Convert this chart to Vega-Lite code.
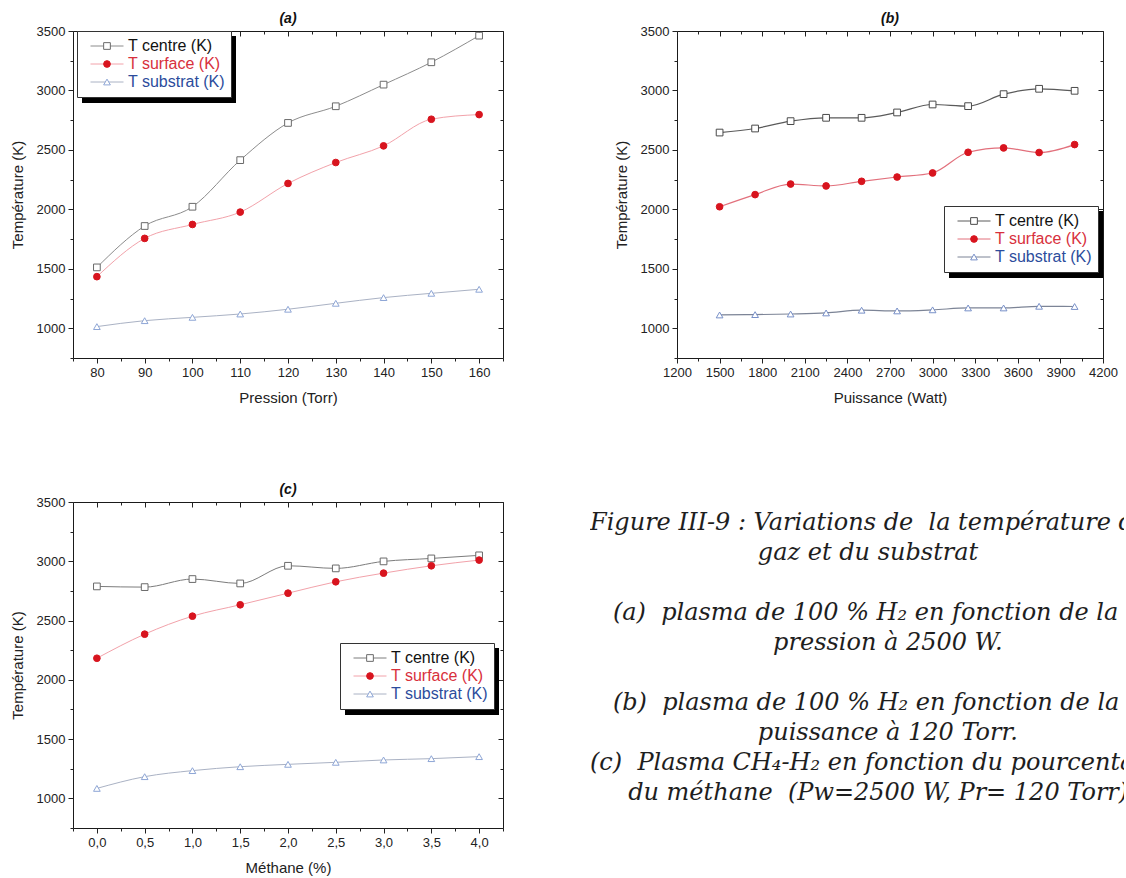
{
  "$schema": "https://vega.github.io/schema/vega-lite/v6.json",
  "background": "white",
  "padding": {"left": 9, "top": 11, "right": 0, "bottom": 0},
  "datasets": {
    "a": [
      {"pression": 80, "serie": "T centre (K)", "temperature": 1512},
      {"pression": 90, "serie": "T centre (K)", "temperature": 1860},
      {"pression": 100, "serie": "T centre (K)", "temperature": 2022},
      {"pression": 110, "serie": "T centre (K)", "temperature": 2414},
      {"pression": 120, "serie": "T centre (K)", "temperature": 2727},
      {"pression": 130, "serie": "T centre (K)", "temperature": 2867},
      {"pression": 140, "serie": "T centre (K)", "temperature": 3049},
      {"pression": 150, "serie": "T centre (K)", "temperature": 3237},
      {"pression": 160, "serie": "T centre (K)", "temperature": 3461},
      {"pression": 80, "serie": "T surface (K)", "temperature": 1434},
      {"pression": 90, "serie": "T surface (K)", "temperature": 1756},
      {"pression": 100, "serie": "T surface (K)", "temperature": 1873},
      {"pression": 110, "serie": "T surface (K)", "temperature": 1977},
      {"pression": 120, "serie": "T surface (K)", "temperature": 2218},
      {"pression": 130, "serie": "T surface (K)", "temperature": 2394},
      {"pression": 140, "serie": "T surface (K)", "temperature": 2534},
      {"pression": 150, "serie": "T surface (K)", "temperature": 2758},
      {"pression": 160, "serie": "T surface (K)", "temperature": 2797},
      {"pression": 80, "serie": "T substrat (K)", "temperature": 1014},
      {"pression": 90, "serie": "T substrat (K)", "temperature": 1064},
      {"pression": 100, "serie": "T substrat (K)", "temperature": 1092},
      {"pression": 110, "serie": "T substrat (K)", "temperature": 1120},
      {"pression": 120, "serie": "T substrat (K)", "temperature": 1160},
      {"pression": 130, "serie": "T substrat (K)", "temperature": 1210},
      {"pression": 140, "serie": "T substrat (K)", "temperature": 1258},
      {"pression": 150, "serie": "T substrat (K)", "temperature": 1294},
      {"pression": 160, "serie": "T substrat (K)", "temperature": 1328}
    ],
    "b": [
      {"puissance": 1500, "serie": "T centre (K)", "temperature": 2646},
      {"puissance": 1750, "serie": "T centre (K)", "temperature": 2680},
      {"puissance": 2000, "serie": "T centre (K)", "temperature": 2742},
      {"puissance": 2250, "serie": "T centre (K)", "temperature": 2770},
      {"puissance": 2500, "serie": "T centre (K)", "temperature": 2770},
      {"puissance": 2750, "serie": "T centre (K)", "temperature": 2815},
      {"puissance": 3000, "serie": "T centre (K)", "temperature": 2882},
      {"puissance": 3250, "serie": "T centre (K)", "temperature": 2868},
      {"puissance": 3500, "serie": "T centre (K)", "temperature": 2969},
      {"puissance": 3750, "serie": "T centre (K)", "temperature": 3014},
      {"puissance": 4000, "serie": "T centre (K)", "temperature": 2997},
      {"puissance": 1500, "serie": "T surface (K)", "temperature": 2022},
      {"puissance": 1750, "serie": "T surface (K)", "temperature": 2124},
      {"puissance": 2000, "serie": "T surface (K)", "temperature": 2213},
      {"puissance": 2250, "serie": "T surface (K)", "temperature": 2197},
      {"puissance": 2500, "serie": "T surface (K)", "temperature": 2236},
      {"puissance": 2750, "serie": "T surface (K)", "temperature": 2272},
      {"puissance": 3000, "serie": "T surface (K)", "temperature": 2306},
      {"puissance": 3250, "serie": "T surface (K)", "temperature": 2480},
      {"puissance": 3500, "serie": "T surface (K)", "temperature": 2517},
      {"puissance": 3750, "serie": "T surface (K)", "temperature": 2478},
      {"puissance": 4000, "serie": "T surface (K)", "temperature": 2545},
      {"puissance": 1500, "serie": "T substrat (K)", "temperature": 1112},
      {"puissance": 1750, "serie": "T substrat (K)", "temperature": 1115},
      {"puissance": 2000, "serie": "T substrat (K)", "temperature": 1120},
      {"puissance": 2250, "serie": "T substrat (K)", "temperature": 1129},
      {"puissance": 2500, "serie": "T substrat (K)", "temperature": 1152},
      {"puissance": 2750, "serie": "T substrat (K)", "temperature": 1146},
      {"puissance": 3000, "serie": "T substrat (K)", "temperature": 1155},
      {"puissance": 3250, "serie": "T substrat (K)", "temperature": 1171},
      {"puissance": 3500, "serie": "T substrat (K)", "temperature": 1171},
      {"puissance": 3750, "serie": "T substrat (K)", "temperature": 1185},
      {"puissance": 4000, "serie": "T substrat (K)", "temperature": 1183}
    ],
    "c": [
      {"methane": 0, "serie": "T centre (K)", "temperature": 2788},
      {"methane": 0.5, "serie": "T centre (K)", "temperature": 2782},
      {"methane": 1, "serie": "T centre (K)", "temperature": 2850},
      {"methane": 1.5, "serie": "T centre (K)", "temperature": 2813},
      {"methane": 2, "serie": "T centre (K)", "temperature": 2962},
      {"methane": 2.5, "serie": "T centre (K)", "temperature": 2940},
      {"methane": 3, "serie": "T centre (K)", "temperature": 2999},
      {"methane": 3.5, "serie": "T centre (K)", "temperature": 3024},
      {"methane": 4, "serie": "T centre (K)", "temperature": 3050},
      {"methane": 0, "serie": "T surface (K)", "temperature": 2182},
      {"methane": 0.5, "serie": "T surface (K)", "temperature": 2385},
      {"methane": 1, "serie": "T surface (K)", "temperature": 2537},
      {"methane": 1.5, "serie": "T surface (K)", "temperature": 2633},
      {"methane": 2, "serie": "T surface (K)", "temperature": 2731},
      {"methane": 2.5, "serie": "T surface (K)", "temperature": 2827},
      {"methane": 3, "serie": "T surface (K)", "temperature": 2900},
      {"methane": 3.5, "serie": "T surface (K)", "temperature": 2962},
      {"methane": 4, "serie": "T surface (K)", "temperature": 3010},
      {"methane": 0, "serie": "T substrat (K)", "temperature": 1084},
      {"methane": 0.5, "serie": "T substrat (K)", "temperature": 1183},
      {"methane": 1, "serie": "T substrat (K)", "temperature": 1234},
      {"methane": 1.5, "serie": "T substrat (K)", "temperature": 1267},
      {"methane": 2, "serie": "T substrat (K)", "temperature": 1287},
      {"methane": 2.5, "serie": "T substrat (K)", "temperature": 1304},
      {"methane": 3, "serie": "T substrat (K)", "temperature": 1324},
      {"methane": 3.5, "serie": "T substrat (K)", "temperature": 1335},
      {"methane": 4, "serie": "T substrat (K)", "temperature": 1352}
    ],
    "legende": [
      {"ligne": 0, "texte": "Figure III-9 : Variations de\u00a0\u00a0la température du"},
      {"ligne": 1, "texte": "\u200b\u00a0\u00a0\u00a0\u00a0\u00a0\u00a0\u00a0\u00a0\u00a0\u00a0\u00a0\u00a0\u00a0\u00a0\u00a0\u00a0\u00a0\u00a0\u00a0\u00a0\u00a0\u00a0gaz et du substrat"},
      {"ligne": 3, "texte": "\u200b\u00a0\u00a0\u00a0(a)\u00a0\u00a0plasma de 100 % H\u2082 en fonction de la"},
      {"ligne": 4, "texte": "\u200b\u00a0\u00a0\u00a0\u00a0\u00a0\u00a0\u00a0\u00a0\u00a0\u00a0\u00a0\u00a0\u00a0\u00a0\u00a0\u00a0\u00a0\u00a0\u00a0\u00a0\u00a0\u00a0\u00a0\u00a0pression à 2500 W."},
      {"ligne": 6, "texte": "\u200b\u00a0\u00a0\u00a0(b)\u00a0\u00a0plasma de 100 % H\u2082 en fonction de la"},
      {"ligne": 7, "texte": "\u200b\u00a0\u00a0\u00a0\u00a0\u00a0\u00a0\u00a0\u00a0\u00a0\u00a0\u00a0\u00a0\u00a0\u00a0\u00a0\u00a0\u00a0\u00a0\u00a0\u00a0\u00a0\u00a0puissance à 120 Torr."},
      {"ligne": 8, "texte": "(c)\u00a0\u00a0Plasma CH\u2084-H\u2082 en fonction du pourcentage"},
      {"ligne": 9, "texte": "\u200b\u00a0\u00a0\u00a0\u00a0\u00a0du méthane\u00a0\u00a0(Pw=2500 W, Pr= 120 Torr)"}
    ]
  },
  "spacing": 76,
  "resolve": {"scale": {"color": "independent", "shape": "independent", "stroke": "independent", "fill": "independent", "strokeDash": "independent"}},
  "vconcat": [
    {
      "spacing": 109,
      "resolve": {"scale": {"color": "independent", "shape": "independent", "stroke": "independent", "fill": "independent", "strokeDash": "independent"}},
      "hconcat": [
        {
          "width": 430,
          "height": 327,
          "title": "(a)",
          "data": {"name": "a"},
          "layer": [
            {
              "mark": {"type": "line", "interpolate": "monotone", "strokeWidth": 1},
              "encoding": {
                "x": {"field": "pression", "type": "quantitative", "scale": {"domain": [75, 165], "nice": false, "zero": false},
                  "axis": {"orient": "bottom", "title": "Pression (Torr)", "format": "d",
                    "values": [75, 80, 85, 90, 95, 100, 105, 110, 115, 120, 125, 130, 135, 140, 145, 150, 155, 160, 165],
                    "labelExpr": "datum.value % 10 === 0 ? datum.label : ''",
                    "tickSize": {"condition": {"test": "datum.value % 10 === 0", "value": 5}, "value": 3}}},
                "y": {"field": "temperature", "type": "quantitative", "scale": {"domain": [750, 3500], "nice": false, "zero": false},
                  "axis": {"orient": "left", "title": "Température (K)", "format": "d",
                    "values": [750, 1000, 1250, 1500, 1750, 2000, 2250, 2500, 2750, 3000, 3250, 3500],
                    "labelExpr": "datum.value % 500 === 0 ? datum.label : ''",
                    "tickSize": {"condition": {"test": "datum.value % 500 === 0", "value": 5}, "value": 3}}},
                "color": {"field": "serie", "type": "nominal", "sort": ["T centre (K)", "T surface (K)", "T substrat (K)"],
                  "scale": {"range": ["#8c8c8c", "#f2a2aa", "#aab2c4"]},
                  "legend": {"title": null, "legendX": 4, "legendY": 0, "zindex": 2, "fillColor": "white", "strokeColor": "#333333", "symbolType": "stroke",
                    "encode": {"labels": {"update": {"fill": {"signal": "datum.value === 'T surface (K)' ? '#d8303c' : datum.value === 'T substrat (K)' ? '#2c4c9c' : '#111111'"}}}}}}
              }
            },
            {
              "mark": {"type": "point", "size": 45, "strokeWidth": 1, "opacity": 1},
              "encoding": {
                "x": {"field": "pression", "type": "quantitative", "axis": null},
                "y": {"field": "temperature", "type": "quantitative", "axis": null},
                "shape": {"field": "serie", "type": "nominal", "scale": {"domain": ["T centre (K)", "T surface (K)", "T substrat (K)"], "range": ["square", "circle", "triangle-up"]},
                  "legend": {"title": null, "legendX": 4, "legendY": 0, "zindex": 3, "symbolSize": 45, "symbolOffset": 16, "labelExpr": "''"}},
                "stroke": {"field": "serie", "type": "nominal", "scale": {"domain": ["T centre (K)", "T surface (K)", "T substrat (K)"], "range": ["#6a6a6a", "#d8141e", "#8ea6d6"]}},
                "fill": {"field": "serie", "type": "nominal", "scale": {"domain": ["T centre (K)", "T surface (K)", "T substrat (K)"], "range": ["white", "#d8141e", "white"]}}
              }
            },
            {
              "mark": {"type": "point", "size": 0, "strokeWidth": 0, "opacity": 1},
              "encoding": {
                "x": {"field": "pression", "type": "quantitative",
                  "axis": {"orient": "top", "title": null, "labels": false,
                    "values": [75, 80, 85, 90, 95, 100, 105, 110, 115, 120, 125, 130, 135, 140, 145, 150, 155, 160, 165],
                    "tickSize": {"condition": {"test": "datum.value % 10 === 0", "value": -5}, "value": -3}}},
                "y": {"field": "temperature", "type": "quantitative",
                  "axis": {"orient": "right", "title": null, "labels": false,
                    "values": [750, 1000, 1250, 1500, 1750, 2000, 2250, 2500, 2750, 3000, 3250, 3500],
                    "tickSize": {"condition": {"test": "datum.value % 500 === 0", "value": -5}, "value": -3}}},
                "fill": {"field": "temperature", "type": "quantitative", "scale": {"range": ["#000000", "#000000"]},
                  "legend": {"title": null, "direction": "horizontal", "legendX": 9, "legendY": 5, "zindex": 1, "padding": 0, "gradientLength": 154, "gradientThickness": 67, "gradientStrokeWidth": 0, "labelExpr": "''"}}
              }
            }
          ],
          "resolve": {"axis": {"x": "independent", "y": "independent"}, "scale": {"fill": "independent", "shape": "independent", "stroke": "independent"}}
        },
        {
          "width": 426,
          "height": 327,
          "title": "(b)",
          "data": {"name": "b"},
          "layer": [
            {
              "mark": {"type": "line", "interpolate": "monotone", "strokeWidth": 1.2},
              "encoding": {
                "x": {"field": "puissance", "type": "quantitative", "scale": {"domain": [1200, 4200], "nice": false, "zero": false},
                  "axis": {"orient": "bottom", "title": "Puissance (Watt)", "format": "d",
                    "values": [1200, 1350, 1500, 1650, 1800, 1950, 2100, 2250, 2400, 2550, 2700, 2850, 3000, 3150, 3300, 3450, 3600, 3750, 3900, 4050, 4200],
                    "labelExpr": "datum.value % 300 === 0 ? datum.label : ''",
                    "tickSize": {"condition": {"test": "datum.value % 300 === 0", "value": 5}, "value": 3}}},
                "y": {"field": "temperature", "type": "quantitative", "scale": {"domain": [750, 3500], "nice": false, "zero": false},
                  "axis": {"orient": "left", "title": "Température (K)", "format": "d",
                    "values": [750, 1000, 1250, 1500, 1750, 2000, 2250, 2500, 2750, 3000, 3250, 3500],
                    "labelExpr": "datum.value % 500 === 0 ? datum.label : ''",
                    "tickSize": {"condition": {"test": "datum.value % 500 === 0", "value": 5}, "value": 3}}},
                "color": {"field": "serie", "type": "nominal", "sort": ["T centre (K)", "T surface (K)", "T substrat (K)"],
                  "scale": {"range": ["#5a5a5a", "#e2707c", "#7c8496"]},
                  "legend": {"title": null, "legendX": 267, "legendY": 175, "zindex": 2, "fillColor": "white", "strokeColor": "#333333", "symbolType": "stroke",
                    "encode": {"labels": {"update": {"fill": {"signal": "datum.value === 'T surface (K)' ? '#d8303c' : datum.value === 'T substrat (K)' ? '#2c4c9c' : '#111111'"}}}}}}
              }
            },
            {
              "mark": {"type": "point", "size": 45, "strokeWidth": 1, "opacity": 1},
              "encoding": {
                "x": {"field": "puissance", "type": "quantitative", "axis": null},
                "y": {"field": "temperature", "type": "quantitative", "axis": null},
                "shape": {"field": "serie", "type": "nominal", "scale": {"domain": ["T centre (K)", "T surface (K)", "T substrat (K)"], "range": ["square", "circle", "triangle-up"]},
                  "legend": {"title": null, "legendX": 267, "legendY": 175, "zindex": 3, "symbolSize": 45, "symbolOffset": 16, "labelExpr": "''"}},
                "stroke": {"field": "serie", "type": "nominal", "scale": {"domain": ["T centre (K)", "T surface (K)", "T substrat (K)"], "range": ["#4a4a4a", "#d8141e", "#7890c8"]}},
                "fill": {"field": "serie", "type": "nominal", "scale": {"domain": ["T centre (K)", "T surface (K)", "T substrat (K)"], "range": ["white", "#d8141e", "white"]}}
              }
            },
            {
              "mark": {"type": "point", "size": 0, "strokeWidth": 0, "opacity": 1},
              "encoding": {
                "x": {"field": "puissance", "type": "quantitative",
                  "axis": {"orient": "top", "title": null, "labels": false,
                    "values": [1200, 1350, 1500, 1650, 1800, 1950, 2100, 2250, 2400, 2550, 2700, 2850, 3000, 3150, 3300, 3450, 3600, 3750, 3900, 4050, 4200],
                    "tickSize": {"condition": {"test": "datum.value % 300 === 0", "value": -5}, "value": -3}}},
                "y": {"field": "temperature", "type": "quantitative",
                  "axis": {"orient": "right", "title": null, "labels": false,
                    "values": [750, 1000, 1250, 1500, 1750, 2000, 2250, 2500, 2750, 3000, 3250, 3500],
                    "tickSize": {"condition": {"test": "datum.value % 500 === 0", "value": -5}, "value": -3}}},
                "fill": {"field": "temperature", "type": "quantitative", "scale": {"range": ["#000000", "#000000"]},
                  "legend": {"title": null, "direction": "horizontal", "legendX": 272, "legendY": 180, "zindex": 1, "padding": 0, "gradientLength": 154, "gradientThickness": 67, "gradientStrokeWidth": 0, "labelExpr": "''"}}
              }
            }
          ],
          "resolve": {"axis": {"x": "independent", "y": "independent"}, "scale": {"fill": "independent", "shape": "independent", "stroke": "independent"}}
        }
      ]
    },
    {
      "spacing": 86,
      "resolve": {"scale": {"color": "independent", "shape": "independent", "stroke": "independent", "fill": "independent", "strokeDash": "independent"}},
      "hconcat": [
        {
          "width": 430,
          "height": 326,
          "title": "(c)",
          "data": {"name": "c"},
          "layer": [
            {
              "mark": {"type": "line", "interpolate": "monotone", "strokeWidth": 1},
              "encoding": {
                "x": {"field": "methane", "type": "quantitative", "scale": {"domain": [-0.25, 4.25], "nice": false, "zero": false},
                  "axis": {"orient": "bottom", "title": "Méthane (%)", "format": ".1f",
                    "values": [-0.25, 0, 0.25, 0.5, 0.75, 1, 1.25, 1.5, 1.75, 2, 2.25, 2.5, 2.75, 3, 3.25, 3.5, 3.75, 4, 4.25],
                    "labelExpr": "abs(datum.value * 2 - round(datum.value * 2)) < 0.001 ? replace(datum.label, '.', ',') : ''",
                    "tickSize": {"condition": {"test": "abs(datum.value * 2 - round(datum.value * 2)) < 0.001", "value": 5}, "value": 3}}},
                "y": {"field": "temperature", "type": "quantitative", "scale": {"domain": [750, 3500], "nice": false, "zero": false},
                  "axis": {"orient": "left", "title": "Température (K)", "format": "d",
                    "values": [750, 1000, 1250, 1500, 1750, 2000, 2250, 2500, 2750, 3000, 3250, 3500],
                    "labelExpr": "datum.value % 500 === 0 ? datum.label : ''",
                    "tickSize": {"condition": {"test": "datum.value % 500 === 0", "value": 5}, "value": 3}}},
                "color": {"field": "serie", "type": "nominal", "sort": ["T centre (K)", "T surface (K)", "T substrat (K)"],
                  "scale": {"range": ["#7c7c7c", "#f2a2aa", "#aab2c4"]},
                  "legend": {"title": null, "legendX": 267, "legendY": 141, "zindex": 2, "fillColor": "white", "strokeColor": "#333333", "symbolType": "stroke",
                    "encode": {"labels": {"update": {"fill": {"signal": "datum.value === 'T surface (K)' ? '#d8303c' : datum.value === 'T substrat (K)' ? '#2c4c9c' : '#111111'"}}}}}}
              }
            },
            {
              "mark": {"type": "point", "size": 45, "strokeWidth": 1, "opacity": 1},
              "encoding": {
                "x": {"field": "methane", "type": "quantitative", "axis": null},
                "y": {"field": "temperature", "type": "quantitative", "axis": null},
                "shape": {"field": "serie", "type": "nominal", "scale": {"domain": ["T centre (K)", "T surface (K)", "T substrat (K)"], "range": ["square", "circle", "triangle-up"]},
                  "legend": {"title": null, "legendX": 267, "legendY": 141, "zindex": 3, "symbolSize": 45, "symbolOffset": 16, "labelExpr": "''"}},
                "stroke": {"field": "serie", "type": "nominal", "scale": {"domain": ["T centre (K)", "T surface (K)", "T substrat (K)"], "range": ["#6a6a6a", "#d8141e", "#8ea6d6"]}},
                "fill": {"field": "serie", "type": "nominal", "scale": {"domain": ["T centre (K)", "T surface (K)", "T substrat (K)"], "range": ["white", "#d8141e", "white"]}}
              }
            },
            {
              "mark": {"type": "point", "size": 0, "strokeWidth": 0, "opacity": 1},
              "encoding": {
                "x": {"field": "methane", "type": "quantitative",
                  "axis": {"orient": "top", "title": null, "labels": false,
                    "values": [-0.25, 0, 0.25, 0.5, 0.75, 1, 1.25, 1.5, 1.75, 2, 2.25, 2.5, 2.75, 3, 3.25, 3.5, 3.75, 4, 4.25],
                    "tickSize": {"condition": {"test": "abs(datum.value * 2 - round(datum.value * 2)) < 0.001", "value": -5}, "value": -3}}},
                "y": {"field": "temperature", "type": "quantitative",
                  "axis": {"orient": "right", "title": null, "labels": false,
                    "values": [750, 1000, 1250, 1500, 1750, 2000, 2250, 2500, 2750, 3000, 3250, 3500],
                    "tickSize": {"condition": {"test": "datum.value % 500 === 0", "value": -5}, "value": -3}}},
                "fill": {"field": "temperature", "type": "quantitative", "scale": {"range": ["#000000", "#000000"]},
                  "legend": {"title": null, "direction": "horizontal", "legendX": 272, "legendY": 146, "zindex": 1, "padding": 0, "gradientLength": 154, "gradientThickness": 67, "gradientStrokeWidth": 0, "labelExpr": "''"}}
              }
            }
          ],
          "resolve": {"axis": {"x": "independent", "y": "independent"}, "scale": {"fill": "independent", "shape": "independent", "stroke": "independent"}}
        },
        {
          "width": 534,
          "height": 326,
          "data": {"name": "legende"},
          "view": {"stroke": null},
          "mark": {"type": "text", "align": "left", "baseline": "middle", "font": "DejaVu Serif", "fontStyle": "italic", "fontSize": 24, "color": "#1e1e1e", "clip": true},
          "encoding": {
            "x": {"datum": 0, "type": "quantitative", "scale": {"domain": [0, 1]}, "axis": null},
            "y": {"field": "ligne", "type": "quantitative", "scale": {"domain": [-0.7, 10.1667], "reverse": true, "nice": false, "zero": false}, "axis": null},
            "text": {"field": "texte", "type": "nominal"}
          }
        }
      ]
    }
  ],
  "config": {
    "view": {"stroke": "#1a1a1a", "strokeWidth": 1},
    "title": {"font": "Liberation Sans", "fontSize": 14, "fontWeight": "bold", "fontStyle": "italic", "color": "#111111", "anchor": "middle", "offset": -1},
    "axis": {"labelFont": "Liberation Sans", "labelFontSize": 13, "labelColor": "#222222", "titleFont": "Liberation Sans", "titleFontSize": 15, "titleFontWeight": "normal", "titleColor": "#222222", "tickColor": "#222222", "tickWidth": 1, "domain": false, "grid": false, "labelPadding": 3, "labelOverlap": false, "labelFlush": false},
    "axisBottom": {"titlePadding": 11},
    "axisLeft": {"titlePadding": 11},
    "legend": {"orient": "none", "labelFont": "Liberation Sans", "labelFontSize": 16, "padding": 6, "clipHeight": 18, "symbolSize": 1089, "symbolStrokeWidth": 1, "symbolOffset": 7, "labelOffset": 4, "rowPadding": 0}
  }
}
